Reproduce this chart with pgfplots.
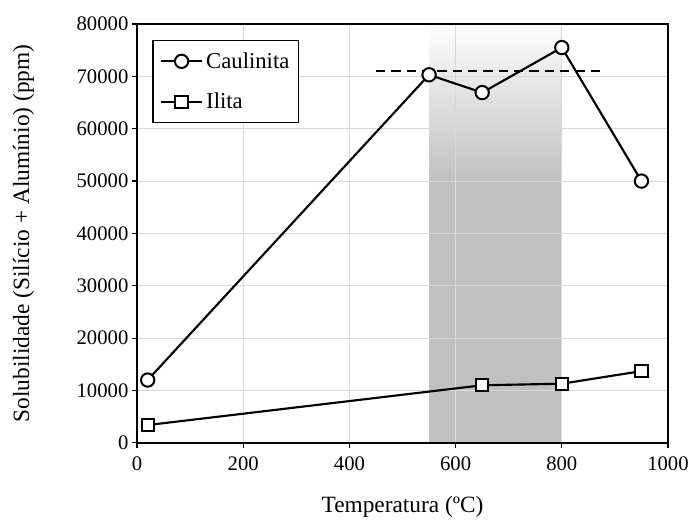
\documentclass[border=0pt]{standalone}
\usepackage{fontspec}
\setmainfont{Liberation Serif}
\usepackage{pgfplots}
\pgfplotsset{compat=1.18}
\definecolor{gridc}{HTML}{D9D9D9}
\definecolor{shadec}{HTML}{C0C0C0}
\begin{document}
\begin{tikzpicture}
\begin{axis}[
  set layers,
  scale only axis,
  width=398pt, height=314pt,
  xmin=0, xmax=1000, ymin=0, ymax=80000,
  xtick={0,200,...,1000},
  ytick={0,10000,...,80000},
  tick pos=left,
  tick align=outside,
  major tick length=4pt,
  tick style={black, line width=0.9pt},
  axis line style={line width=1pt},
  grid=major,
  grid style={gridc, line width=0.8pt},
  /pgf/number format/assume math mode=true,
  /pgf/number format/set thousands separator={},
  scaled y ticks=false,
  tick label style={font=\fontsize{15.5}{17}\selectfont},
  yticklabel style={xshift=1pt},
  xticklabel style={yshift=-3pt},
  label style={font=\fontsize{17.5}{20}\selectfont},
  xlabel={Temperatura (ºC)},
  ylabel={Solubilidade (Silício + Alumínio) (ppm)},
  xlabel style={yshift=-12pt},
  ylabel style={yshift=25pt},
  legend cell align=left,
  legend style={at={(0.029,0.962)}, anchor=north west, draw=black, line width=0.8pt,
    row sep=13pt, inner xsep=5pt, inner ysep=7pt, font=\fontsize{17}{19}\selectfont},
  legend image code/.code={%
    \draw[mark repeat=2,mark phase=2] plot coordinates {(0cm,0cm)(0.55cm,0cm)(1.1cm,0cm)};},
]
\addplot[draw=none, fill=shadec, on layer=axis background, forget plot]
  coordinates {(550,0) (550,50000) (800,50000) (800,0)} -- cycle;
\addplot[draw=none, top color=white!98!shadec, bottom color=shadec, on layer=axis background, forget plot]
  coordinates {(550,50000) (550,80000) (800,80000) (800,50000)} -- cycle;
\addplot[black, line width=1.6pt, dashed, dash pattern=on 7pt off 4.5pt, forget plot]
  coordinates {(450,71000) (880,71000)};
\addplot[black, line width=1.6pt, mark=*, mark size=5pt, mark options={fill=white, line width=1.5pt, solid}]
  coordinates {(20,12000) (550,70300) (650,66900) (800,75500) (950,50000)};
\addlegendentry{Caulinita}
\addplot[black, line width=1.6pt, mark=square*, mark size=4.6pt, mark options={fill=white, line width=1.5pt, solid}]
  coordinates {(20,3400) (650,11000) (800,11300) (950,13700)};
\addlegendentry{Ilita}
\end{axis}
\path (current axis.south west) ++(-102.75pt,-54.75pt) coordinate (bbA);
\path (current axis.north east) ++(23.25pt,18pt) coordinate (bbB);
\path (bbA) rectangle (bbB);
\end{tikzpicture}
\end{document}
